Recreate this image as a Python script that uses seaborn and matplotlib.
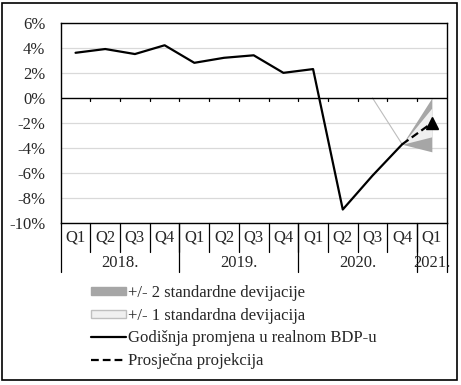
import numpy as np
import pandas as pd
import matplotlib
matplotlib.use("Agg")
import matplotlib.pyplot as plt
from matplotlib.patches import Patch, Rectangle
from matplotlib.lines import Line2D
from matplotlib.transforms import blended_transform_factory
import seaborn as sns

# ---------------- DATA ----------------
quarters = ["Q1", "Q2", "Q3", "Q4", "Q1", "Q2", "Q3", "Q4", "Q1", "Q2", "Q3", "Q4", "Q1"]
years = ["2018.", "2019.", "2020.", "2021."]
year_len = [4, 4, 4, 1]
gdp = [3.6, 3.9, 3.5, 4.2, 2.8, 3.2, 3.4, 2.0, 2.3, -8.9, -6.2, -3.7, np.nan]
projection = [-3.7, -2.0]
band2_low = [-3.7, -4.3]
band2_high = [-3.7, 0.0]
band1_low = [-3.7, -3.1]
band1_high = [-3.7, -0.8]
helper_line = [0.0, -3.7]

df = pd.DataFrame({"x": np.arange(len(quarters)), "gdp": gdp})

# ---------------- STYLE ----------------
sns.set_style("white")
plt.rcParams["font.family"] = ["Liberation Serif", "DejaVu Serif"]
plt.rcParams["font.size"] = 12

W, H = 461, 385
fig = plt.figure(figsize=(W / 100, H / 100), dpi=100)
ax = fig.add_axes([60.7 / W, 1 - 223.3 / H, (446.7 - 60.7) / W, (223.3 - 22.7) / H])

# gridlines
for v in range(-10, 7, 2):
    if v != 0:
        ax.axhline(v, color="#d9d9d9", lw=0.9, zorder=0)

# fan
fx = [11, 12]
ax.fill_between(fx, band2_low, band2_high, color="#a6a6a6", lw=0, zorder=1)
ax.fill_between(fx, band1_low, band1_high, color="#f0f0f0", lw=0, zorder=2)
ax.plot([10, 11], helper_line, color="#bdbdbd", lw=0.8, zorder=2)

# main line
dash = (0, (3.5, 1.8))
sns.lineplot(data=df, x="x", y="gdp", color="black", lw=1.6, ax=ax, zorder=4)
ax.plot(fx, projection, color="black", lw=1.6, ls=dash, zorder=5)
ax.plot(fx[1], projection[1], marker="^", color="black", ms=8, zorder=6)

# category axis at 0
ax.axhline(0, color="black", lw=1, zorder=3)
trans = blended_transform_factory(ax.transData, ax.transAxes)
for b in np.arange(0.5, 12, 1):
    ax.plot([b, b], [0, -0.22], color="black", lw=0.9, zorder=3)

ax.set_xlim(-0.5, 12.5)
ax.set_ylim(-10, 6)
ax.set_yticks(range(-10, 7, 2))
ax.set_yticklabels([f"{v}%" for v in range(-10, 7, 2)])
ax.tick_params(axis="y", length=0, pad=11)
ax.set_xticks([])
ax.set_xlabel("")
ax.set_ylabel("")
for s in ax.spines.values():
    s.set_color("black")
    s.set_linewidth(1)

# multi-level labels below
ph = 223.3 - 22.7
row_h = 28.5 / ph
for i, q in enumerate(quarters):
    ax.text(i, -row_h / 2, q, transform=trans, ha="center", va="center")
for b in np.arange(0.5, 12, 1):
    ax.plot([b, b], [0, -row_h], transform=trans, color="black", lw=0.9, clip_on=False)
start = 0
for y, n in zip(years, year_len):
    ax.text(start + n / 2 - 0.5, -row_h - 11 / ph, y, transform=trans,
            ha="center", va="center")
    start += n
for b in [-0.5, 3.5, 7.5, 11.5, 12.5]:
    ax.plot([b, b], [0, -(48.5 / ph)], transform=trans, color="black", lw=0.9, clip_on=False)

# outer frame
fig.patches.append(Rectangle((2 / W, 1 - 380 / H), 455 / W, 377 / H, transform=fig.transFigure,
                             fill=False, ec="black", lw=1.2))

# legend
handles = [
    Patch(facecolor="#a6a6a6", edgecolor="#a6a6a6"),
    Patch(facecolor="#f0f0f0", edgecolor="#bfbfbf"),
    Line2D([], [], color="black", lw=1.6),
    Line2D([], [], color="black", lw=1.6, ls=dash),
]
labels = ["+/- 2 standardne devijacije", "+/- 1 standardna devijacija",
          "Godišnja promjena u realnom BDP-u", "Prosječna projekcija"]
fig.legend(handles, labels, loc="upper left", bbox_to_anchor=(90.5 / W, 1 - 285 / H),
           frameon=False, handlelength=2.1, handleheight=0.38, handletextpad=0.12,
           labelspacing=0.4, borderaxespad=0, borderpad=0, fontsize=12)

fig.savefig("out.png", dpi=100)
